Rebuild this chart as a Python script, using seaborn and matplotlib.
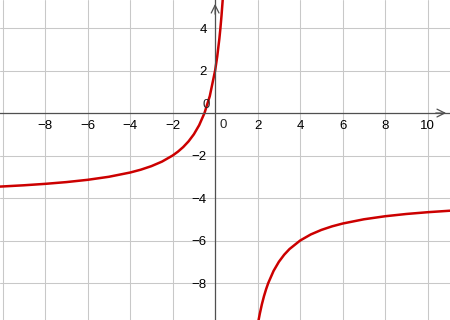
import matplotlib
matplotlib.use("Agg")
import matplotlib.pyplot as plt
import seaborn as sns
import pandas as pd

# Points (two branches of the curve)
left_x = [-10.15, -10, -9, -8, -7, -6, -5, -4, -3.5, -3, -2.5, -2, -1.75, -1.5, -1.25,
          -1, -0.75, -0.5, -0.25, 0, 0.1, 0.2, 0.25, 0.3, 0.35, 0.36]
left_y = [-3.462, -3.455, -3.4, -3.333, -3.25, -3.143, -3.0, -2.8, -2.667, -2.5, -2.286,
          -2.0, -1.818, -1.6, -1.333, -1.0, -0.571, 0.0, 0.8, 2.0, 2.667, 3.5, 4.0,
          4.571, 5.231, 5.375]
right_x = [2.04, 2.1, 2.2, 2.3, 2.4, 2.5, 2.75, 3, 3.25, 3.5, 4, 4.5, 5, 5.5, 6, 7, 8,
           9, 10, 11, 11.1]
right_y = [-9.769, -9.455, -9.0, -8.615, -8.286, -8.0, -7.429, -7.0, -6.667, -6.4, -6.0,
           -5.714, -5.5, -5.333, -5.2, -5.0, -4.857, -4.75, -4.667, -4.6, -4.594]

x_ticks = [-10, -8, -6, -4, -2, 0, 2, 4, 6, 8, 10]
x_labels = ["", "−8", "−6", "−4", "−2", "", "2", "4", "6", "8", "10"]
y_ticks = [-8, -6, -4, -2, 0, 2, 4]
y_labels = ["−8", "−6", "−4", "−2", "", "2", "4"]

sns.set_style("white")
plt.rcParams["font.family"] = ["Liberation Sans", "DejaVu Sans"]

fig = plt.figure(figsize=(4.5, 3.2), dpi=100)
ax = fig.add_axes([0, 0, 1, 1])

xmin, xmax = -10.12, 11.05
ymin, ymax = -9.74, 5.32
ax.set_xlim(xmin, xmax)
ax.set_ylim(ymin, ymax)

ax.set_xticks(x_ticks)
ax.set_xticklabels(x_labels)
ax.set_yticks(y_ticks)
ax.set_yticklabels(y_labels)
ax.grid(True, color="#c8c8c8", linewidth=0.75)
ax.set_axisbelow(True)

for s in ["top", "right"]:
    ax.spines[s].set_visible(False)
ax.spines["left"].set_position(("data", 0))
ax.spines["bottom"].set_position(("data", 0))
for s in ["left", "bottom"]:
    ax.spines[s].set_color("#505050")
    ax.spines[s].set_linewidth(0.9)
ax.tick_params(axis="both", length=4, width=0.8, direction="inout",
               color="#505050", labelsize=9.5, labelcolor="black")
ax.tick_params(axis="x", pad=3)
ax.tick_params(axis="y", pad=4)

ax.text(-0.25, 0.1, "0", ha="right", va="bottom", fontsize=9.5)
ax.text(0.2, -0.3, "0", ha="left", va="top", fontsize=9.5)

# arrows
ax.annotate("", xy=(xmax - 0.05, 0), xytext=(xmax - 0.8, 0),
            arrowprops=dict(arrowstyle="->", color="#505050", lw=0.9,
                            mutation_scale=14))
ax.annotate("", xy=(0, ymax - 0.05), xytext=(0, ymax - 0.8),
            arrowprops=dict(arrowstyle="->", color="#505050", lw=0.9,
                            mutation_scale=14))

df_l = pd.DataFrame({"x": left_x, "y": left_y})
df_r = pd.DataFrame({"x": right_x, "y": right_y})
sns.lineplot(data=df_l, x="x", y="y", ax=ax, color="#cc0000", linewidth=1.8,
             sort=False, estimator=None)
sns.lineplot(data=df_r, x="x", y="y", ax=ax, color="#cc0000", linewidth=1.8,
             sort=False, estimator=None)
ax.set_xlabel("")
ax.set_ylabel("")
ax.set_xlim(xmin, xmax)
ax.set_ylim(ymin, ymax)

fig.savefig("out.png", dpi=100)
